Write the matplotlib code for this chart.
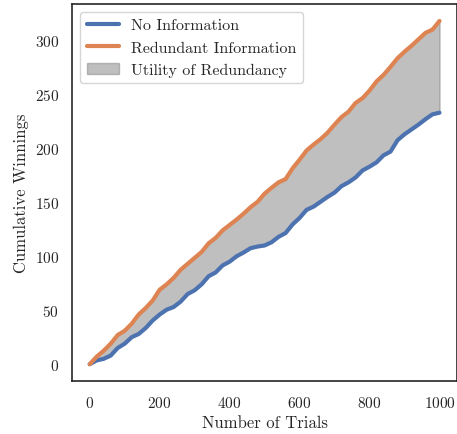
import matplotlib
matplotlib.use("Agg")
import matplotlib.pyplot as plt
import numpy as np
import seaborn as sns

# cumulative winnings, every 20 trials
trials = list(range(0, 1001, 20))
no_info = [0, 3.5, 5, 8, 15, 19, 25, 28, 33.5, 40.5,
           46, 50.5, 53, 58, 65, 68.5, 74, 81.5, 85, 91.5,
           95, 100, 103.5, 107.5, 109, 110, 113, 118, 121.5, 129.5,
           135.5, 143, 146, 150.5, 155, 159, 165, 168.5, 173, 179.5,
           183, 187, 193.5, 197, 207.5, 213, 217.5, 222, 227, 231.5,
           233]
redundant = [0, 7, 12.5, 19, 27, 31, 37.5, 46, 52, 59,
             69, 74, 80, 87.5, 93, 98.5, 104, 112, 117, 124,
             129, 134, 139.5, 145.5, 150.5, 158, 163.5, 168.5, 171.5, 181.5,
             189.5, 198, 203.5, 208.5, 214.5, 222, 229, 234, 242, 246.5,
             253.5, 262, 268, 275.5, 283.5, 289.5, 295, 301, 307, 310,
             318]

sns.set_theme(style="white")
plt.rcParams['font.family'] = ['cmr10', 'DejaVu Serif']
plt.rcParams['axes.formatter.use_mathtext'] = True
plt.rcParams['mathtext.fontset'] = 'cm'

fig = plt.figure(figsize=(4.57, 4.35), dpi=100)
ax = fig.add_axes([0.158, 0.121, 0.842, 0.868])

ax.plot(trials, no_info, color='#4C72B0', lw=3, label='No Information')
ax.plot(trials, redundant, color='#DD8452', lw=3, label='Redundant Information')
ax.fill_between(trials, no_info, redundant, color='grey', alpha=0.5,
                label='Utility of Redundancy')

ax.set_xlabel('Number of Trials', fontsize=12)
ax.set_ylabel('Cumulative Winnings', fontsize=12)
ax.tick_params(labelsize=11)
ax.set_xticks([0, 200, 400, 600, 800, 1000])
ax.set_yticks([0, 50, 100, 150, 200, 250, 300])
for s in ax.spines.values():
    s.set_color('#262626')
    s.set_linewidth(1.2)

ax.legend(loc='upper left', fontsize=11.5)

fig.savefig('out.png', dpi=100)
